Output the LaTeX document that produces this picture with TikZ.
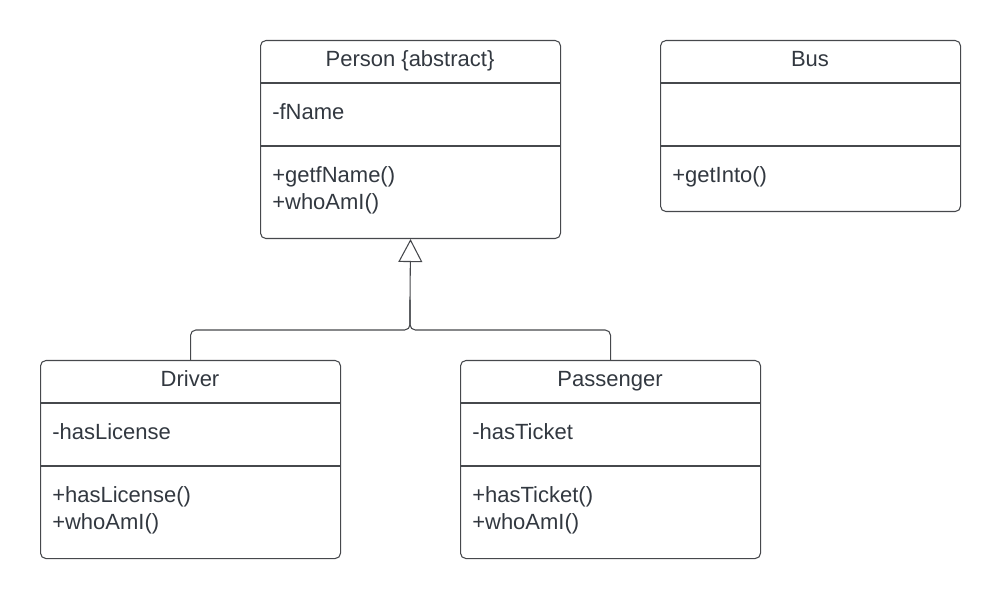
\documentclass[tikz,border=0pt]{standalone}
\usepackage{fontspec}
\setmainfont{Liberation Sans}
\usetikzlibrary{arrows.meta}
\definecolor{ln}{RGB}{70,72,76}
\definecolor{tx}{RGB}{50,56,64}
\tikzset{
  cls/.style={draw=ln, line width=0.8pt, rounded corners=4pt, minimum width=225pt, inner sep=0pt, anchor=north west},
  sep/.style={draw=ln, line width=0.8pt},
  title/.style={text=tx, font=\fontsize{16.5}{20}\selectfont, anchor=base, inner sep=0pt},
  item/.style={text=tx, font=\fontsize{16.5}{20}\selectfont, anchor=base west, inner sep=0pt},
  conn/.style={draw=ln, line width=0.8pt, rounded corners=4pt},
}
\begin{document}
\begin{tikzpicture}[x=0.75pt,y=-0.75pt]
\useasboundingbox (0,0) rectangle (1000,598);
% Person
\node[cls, minimum height=148.5pt] (person) at (260,40) {};
\draw[sep] (260,83) -- (560,83);
\draw[sep] (260,146) -- (560,146);
\node[title] (ptitle) at (410,67) {Person \{abstract\}};
\node[item] (pattr) at (272,120) {-fName};
\node[item] (pm1) at (272,183) {+getfName()};
\node[item] (pm2) at (272,210) {+whoAmI()};
% Bus
\node[cls, minimum height=128.25pt] (bus) at (660,40) {};
\draw[sep] (660,83) -- (960,83);
\draw[sep] (660,146) -- (960,146);
\node[title] (btitle) at (810,67) {Bus};
\node[item] (bm1) at (672,183) {+getInto()};
% Driver
\node[cls, minimum height=148.5pt] (driver) at (40,360) {};
\draw[sep] (40,403) -- (340,403);
\draw[sep] (40,466) -- (340,466);
\node[title] (dtitle) at (190,387) {Driver};
\node[item] (dattr) at (52,440) {-hasLicense};
\node[item] (dm1) at (52,503) {+hasLicense()};
\node[item] (dm2) at (52,530) {+whoAmI()};
% Passenger
\node[cls, minimum height=148.5pt] (pass) at (460,360) {};
\draw[sep] (460,403) -- (760,403);
\draw[sep] (460,466) -- (760,466);
\node[title] (pstitle) at (610,387) {Passenger};
\node[item] (psattr) at (472,440) {-hasTicket};
\node[item] (psm1) at (472,503) {+hasTicket()};
\node[item] (psm2) at (472,530) {+whoAmI()};
% Generalization
\coordinate (j) at (410,330);
\draw[conn] (driver.north) |- (j) -- (410,300);
\draw[conn] (pass.north) |- (j) -- (410,300);
\draw[draw=ln, line width=0.8pt, -{Triangle[open, length=17.25pt, width=18pt]}] (410,300) -- (person.south);
\end{tikzpicture}
\end{document}
